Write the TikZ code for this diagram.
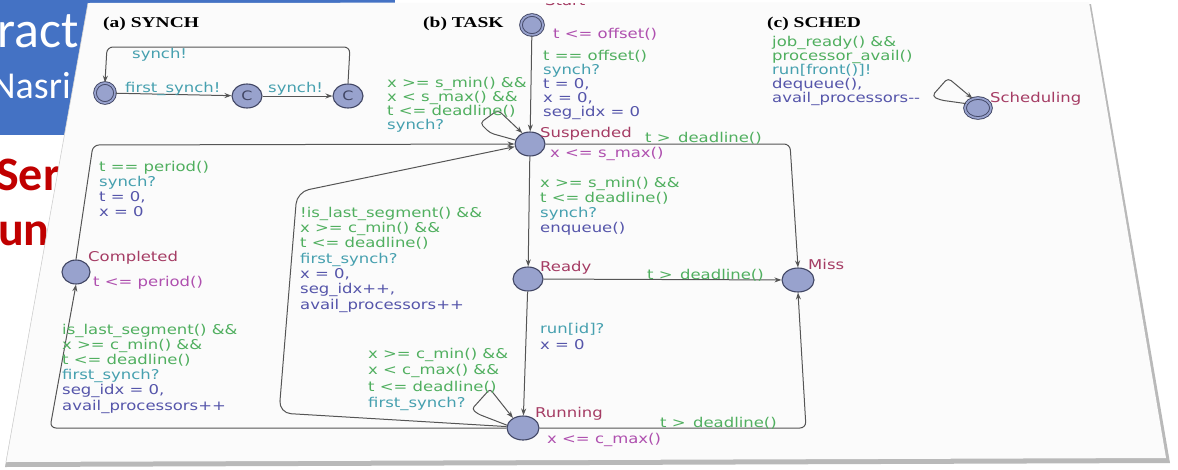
\documentclass[tikz,border=0pt]{standalone}
\usepackage{fontspec}
\usetikzlibrary{shapes.geometric,arrows.meta}
\newfontfamily\labfont{DejaVu Sans}[FakeStretch=1.22]
\newfontfamily\titfont{Liberation Serif}[FakeStretch=1.3]
\newfontfamily\slidefont{Carlito}
\definecolor{lgreen}{RGB}{80,175,95}
\definecolor{lteal}{RGB}{70,160,175}
\definecolor{lblue}{RGB}{85,85,170}
\definecolor{lmag}{RGB}{175,80,175}
\definecolor{lmaroon}{RGB}{165,60,100}
\definecolor{stfill}{RGB}{152,162,205}
\definecolor{stdraw}{RGB}{65,70,100}
\definecolor{edgec}{RGB}{85,85,85}
\definecolor{slideblue}{RGB}{68,114,196}
\definecolor{slidered}{RGB}{192,0,0}
\definecolor{paperc}{RGB}{251,251,251}
\newcommand{\G}[1]{\textcolor{lgreen}{#1}}
\newcommand{\T}[1]{\textcolor{lteal}{#1}}
\newcommand{\B}[1]{\textcolor{lblue}{#1}}
\newcommand{\M}[1]{\textcolor{lmag}{#1}}
\newcommand{\R}[1]{\textcolor{lmaroon}{#1}}
\newcommand{\gt}{t >\hspace{0.55em}deadline()}
\begin{document}
\begin{tikzpicture}[x=1pt,y=-1pt,
  state/.style={ellipse, draw=stdraw, fill=stfill, line width=1.1pt,
    minimum width=30pt, minimum height=24pt, inner sep=0pt},
  initstate/.style={ellipse, draw=stdraw, fill=stfill, line width=0.9pt,
    double=stfill, double distance=1.8pt, minimum width=#1, minimum height=20pt, inner sep=0pt},
  initstate/.default=20pt,
  commit/.style={state, text=stdraw, font=\labfont\fontsize{13}{13}\selectfont},
  lab/.style={anchor=base west, inner sep=0pt, align=left,
    font=\labfont\fontsize{13.5}{#1}\selectfont},
  lab/.default=15,
  title/.style={anchor=base west, inner sep=0pt, font=\titfont\bfseries\fontsize{15}{15}\selectfont},
  edge/.style={draw=edgec, line width=1pt, -{Stealth[length=7pt,width=5pt]}, rounded corners=6pt}
]
\useasboundingbox (0,0) rectangle (1178,469);
\clip (0,0) rectangle (1178,469);
% slide behind the paper
\fill[slideblue] (0,0) rectangle (395,135);
\node[anchor=base west, inner sep=0pt, text=white, font=\slidefont\fontsize{52}{52}\selectfont] (sa) at (-3,47) {ract};
\node[anchor=base west, inner sep=0pt, text=white, font=\slidefont\fontsize{38}{38}\selectfont] (sb) at (-9,98) {Nasri};
\node[anchor=base west, inner sep=0pt, text=slidered, font=\slidefont\bfseries\fontsize{48}{48}\selectfont] (sc) at (-4,190) {Ser};
\node[anchor=base west, inner sep=0pt, text=slidered, font=\slidefont\bfseries\fontsize{48}{48}\selectfont] (sd) at (-2,245) {un};
% paper
\fill[gray!55] (88,5) -- (1091,4) -- (1170,463) -- (5,467) -- cycle;
\fill[paperc] (88,3) -- (1089,2) -- (1166,458) -- (6,462) -- cycle;
\draw[gray!35, line width=0.6pt] (88,3) -- (6,462);
\begin{scope}
\clip (88,3) -- (1089,2) -- (1166,458) -- (6,462) -- cycle;
% titles
\node[title] (ta) at (103,27) {(a) SYNCH};
\node[title] (tb) at (423,27) {(b) TASK};
\node[title] (tc) at (767,27) {(c) SCHED};
% ---------- SYNCH
\node[initstate] (sinit) at (105,93) {};
\node[commit] (sc1) at (247,96) {C};
\node[commit] (sc2) at (348,96) {C};
\draw[edge] (sinit) -- (sc1);
\draw[edge] (sc1) -- (sc2);
\draw[edge] (sc2.north) -- (350,47) -- (107,47) -- (sinit.north);
\node[lab] (ly1) at (132,58) {\T{synch!}};
\node[lab] (ly2) at (125,92) {\T{first\_synch!}};
\node[lab] (ly3) at (268,92) {\T{synch!}};
% ---------- TASK states
\node[initstate=22pt] (start) at (532,25) {};
\node[state] (susp) at (530,144) {};
\node[state] (ready) at (528,279) {};
\node[state, minimum width=32pt] (run) at (523,428) {};
\node[state, minimum width=32pt] (miss) at (798,280) {};
\node[state, minimum width=28pt] (comp) at (76,272) {};
% names and invariants
\node[lab] (nstart) at (545,5) {\R{Start}};
\node[lab] (istart) at (553,38) {\M{t <= offset()}};
\node[lab] (nsusp) at (540,137) {\R{Suspended}};
\node[lab] (isusp) at (550,157) {\M{x <= s\_max()}};
\node[lab] (nready) at (540,271) {\R{Ready}};
\node[lab] (nmiss) at (808,269) {\R{Miss}};
\node[lab] (nrun) at (535,417) {\R{Running}};
\node[lab] (irun) at (547,443) {\M{x <= c\_max()}};
\node[lab] (ncomp) at (88,261) {\R{Completed}};
\node[lab] (icomp) at (93,286) {\M{t <= period()}};
% edges
\draw[edge] (start) -- (susp);
\draw[edge, rounded corners=4pt] (susp.165) -- (490,133) -- (480,123) -- (498,110) -- (susp.125);
\draw[edge] (susp) -- (ready);
\draw[edge] (susp.east) -- (790,144) -- (miss.north);
\draw[edge] (ready) -- (miss);
\draw[edge] (ready) -- (run);
\draw[edge] (run.east) -- (806,428) -- (miss.south);
\draw[edge, rounded corners=3pt] (run.170) -- (478,414) -- (472,409) -- (490,389) -- (run.135);
\draw[edge, rounded corners=12pt] (run.175) -- (279,413) -- (297,192) -- (susp.190);
\draw[edge] (run.west) -- (50,428) -- (comp.south);
\draw[edge] (comp.north) -- (93,145) -- (susp.west);
% edge labels (anchor = baseline of the last line)
\node[lab=14] (lst) at (543,116) {\G{t == offset()}\\\T{synch?}\\\B{t = 0,}\\\B{x = 0,}\\\B{seg\_idx = 0}};
\node[lab=14] (lsl) at (387,129) {\G{x >= s\_min() \&\&}\\\G{x < s\_max() \&\&}\\\G{t <= deadline()}\\\T{synch?}};
\node[lab] (lsm) at (645,142) {\G{\gt}};
\node[lab] (lsr) at (540,232) {\G{x >= s\_min() \&\&}\\\G{t <= deadline()}\\\T{synch?}\\\B{enqueue()}};
\node[lab] (lrm) at (647,279) {\G{\gt}};
\node[lab=16.5] (lrr) at (540,349.5) {\T{run[id]?}\\\B{x = 0}};
\node[lab] (lrun) at (660,427) {\G{\gt}};
\node[lab=16.5] (lrl) at (368,407.5) {\G{x >= c\_min() \&\&}\\\G{x < c\_max() \&\&}\\\G{t <= deadline()}\\\T{first\_synch?}};
\node[lab=15.3] (lrs) at (300,309) {\G{!is\_last\_segment() \&\&}\\\G{x >= c\_min() \&\&}\\\G{t <= deadline()}\\\T{first\_synch?}\\\B{x = 0,}\\\B{seg\_idx++,}\\\B{avail\_processors++}};
\node[lab=15.2] (lrc) at (62,410) {\G{is\_last\_segment() \&\&}\\\G{x >= c\_min() \&\&}\\\G{t <= deadline()}\\\T{first\_synch?}\\\B{seg\_idx = 0,}\\\B{avail\_processors++}};
\node[lab=14.7] (lcs) at (99,216) {\G{t == period()}\\\T{synch?}\\\B{t = 0,}\\\B{x = 0}};
% ---------- SCHED
\node[initstate=26pt] (sched) at (978,108) {};
\node[lab] (nsched) at (990,102) {\R{Scheduling}};
\draw[edge, rounded corners=4pt] (sched.160) -- (940,100) -- (932,96) -- (948,78) -- (sched.120);
\node[lab=13.8] (lsch) at (772,102) {\G{job\_ready() \&\&}\\\G{processor\_avail()}\\\T{run[front()]!}\\\B{dequeue(),}\\\B{avail\_processors-{}-}};
\end{scope}
\end{tikzpicture}
\end{document}
